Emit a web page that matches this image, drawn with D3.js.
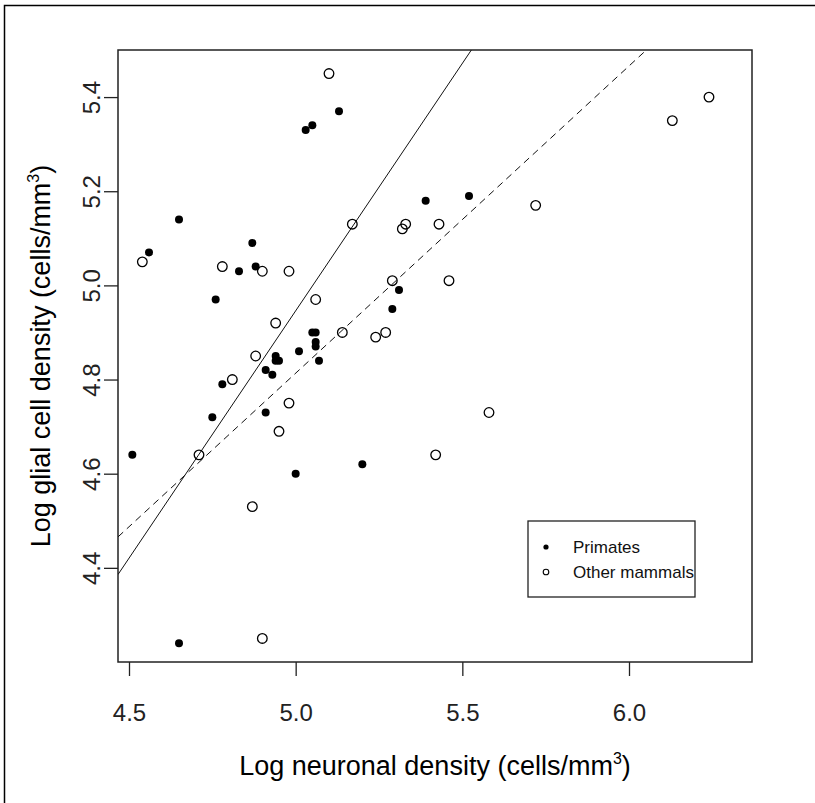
<!DOCTYPE html>
<html>
<head>
<meta charset="utf-8">
<script src="https://cdn.jsdelivr.net/npm/d3@7"></script>
<style>
  body { margin: 0; background: #fff; }
  svg { display: block; font-family: "Liberation Sans", Arial, sans-serif; }
</style>
</head>
<body>
<div id="chart"></div>
<script>
const width = 815
const height = 803
const margin = {left: 118, right: 63, top: 50, bottom: 141}

// axis limits and ticks
const xlim = [4.467, 6.369]
const ylim = [4.2, 5.5]
const x_ticks = [4.5, 5.0, 5.5, 6.0]
const y_ticks = [4.4, 4.6, 4.8, 5.0, 5.2, 5.4]

// primates (filled)
const primate_x = [5.03, 5.05, 5.13, 4.65, 4.56, 4.87, 4.83, 4.88, 4.76, 5.39, 5.52, 5.31, 5.29, 5.05, 5.06, 5.06, 5.06, 5.07, 5.01, 4.94, 4.94, 4.95, 4.91, 4.93, 4.78, 4.75, 4.91, 4.51, 5.00, 5.20, 4.65]
const primate_y = [5.33, 5.34, 5.37, 5.14, 5.07, 5.09, 5.03, 5.04, 4.97, 5.18, 5.19, 4.99, 4.95, 4.90, 4.90, 4.88, 4.87, 4.84, 4.86, 4.85, 4.84, 4.84, 4.82, 4.81, 4.79, 4.72, 4.73, 4.64, 4.60, 4.62, 4.24]

// other mammals (open)
const other_x = [5.10, 4.54, 4.78, 4.90, 4.98, 5.17, 5.33, 5.32, 5.43, 6.13, 6.24, 5.72, 4.94, 5.06, 5.29, 5.46, 4.88, 5.14, 5.27, 5.24, 4.81, 4.98, 4.95, 4.71, 5.58, 5.42, 4.87, 4.90]
const other_y = [5.45, 5.05, 5.04, 5.03, 5.03, 5.13, 5.13, 5.12, 5.13, 5.35, 5.40, 5.17, 4.92, 4.97, 5.01, 5.01, 4.85, 4.90, 4.90, 4.89, 4.80, 4.75, 4.69, 4.64, 4.73, 4.64, 4.53, 4.25]

// regression lines: [intercept, slope]
const fit_primates = [-0.309, 1.051]
const fit_others = [1.551, 0.6525]

const legend_labels = ["Primates", "Other mammals"]

var svg = d3.select("#chart").append("svg")
	.attr("width", width)
	.attr("height", height)

// outer frame (cropped figure)
svg.append("rect")
	.attr("x", 4.5).attr("y", 5.5)
	.attr("width", 1000).attr("height", 1000)
	.attr("fill", "none")
	.attr("stroke", "#000")
	.attr("stroke-width", 1.5)

var x = d3.scaleLinear().domain(xlim).range([margin.left, width - margin.right])
var y = d3.scaleLinear().domain(ylim).range([height - margin.bottom, margin.top])

svg.append("clipPath").attr("id", "plotclip")
	.append("rect")
	.attr("x", margin.left).attr("y", margin.top)
	.attr("width", width - margin.left - margin.right)
	.attr("height", height - margin.top - margin.bottom)

// axes
var xAxis = svg.append("g")
	.attr("transform", `translate(0,${height - margin.bottom})`)
	.call(d3.axisBottom(x).tickValues(x_ticks).tickFormat(d3.format(".1f")).tickSize(14).tickPadding(28))
xAxis.select(".domain").remove()
xAxis.selectAll("text").attr("font-size", "24px").attr("fill", "#222").attr("font-family", "Liberation Sans, Arial, sans-serif")
xAxis.selectAll("line").attr("stroke", "#222").attr("stroke-width", 1.3)

var yAxis = svg.append("g")
	.attr("transform", `translate(${margin.left},0)`)
	.call(d3.axisLeft(y).tickValues(y_ticks).tickFormat(d3.format(".1f")).tickSize(14).tickPadding(0))
yAxis.select(".domain").remove()
yAxis.selectAll("line").attr("stroke", "#222").attr("stroke-width", 1.3)
yAxis.selectAll("text")
	.attr("font-size", "24px").attr("fill", "#222")
	.attr("font-family", "Liberation Sans, Arial, sans-serif")
	.attr("x", null).attr("dy", null)
	.attr("text-anchor", "middle")
	.attr("transform", "translate(-18,0) rotate(-90)")

// box
svg.append("rect")
	.attr("x", margin.left).attr("y", margin.top)
	.attr("width", width - margin.left - margin.right)
	.attr("height", height - margin.top - margin.bottom)
	.attr("fill", "none")
	.attr("stroke", "#222")
	.attr("stroke-width", 1.5)

// fitted lines
var lines = svg.append("g").attr("clip-path", "url(#plotclip)")
let line_of = function(fit) {
	return [xlim[0], xlim[1]].map(v => [x(v), y(fit[0] + fit[1]*v)])
}
lines.append("path")
	.attr("d", d3.line()(line_of(fit_primates)))
	.attr("stroke", "#111").attr("stroke-width", 1).attr("fill", "none")
lines.append("path")
	.attr("d", d3.line()(line_of(fit_others)))
	.attr("stroke", "#111").attr("stroke-width", 1).attr("fill", "none")
	.attr("stroke-dasharray", "7 5")

// points
svg.append("g").selectAll("circle")
	.data(other_x.map((v, i) => [v, other_y[i]]))
	.enter().append("circle")
	.attr("cx", d => x(d[0]))
	.attr("cy", d => y(d[1]))
	.attr("r", 4.8)
	.attr("fill", "none")
	.attr("stroke", "#000")
	.attr("stroke-width", 1.3)

svg.append("g").selectAll("circle")
	.data(primate_x.map((v, i) => [v, primate_y[i]]))
	.enter().append("circle")
	.attr("cx", d => x(d[0]))
	.attr("cy", d => y(d[1]))
	.attr("r", 4)
	.attr("fill", "#000")

// legend
var legend = svg.append("g").attr("transform", "translate(528,521)")
legend.append("rect")
	.attr("width", 167).attr("height", 76)
	.attr("fill", "#fff").attr("stroke", "#222").attr("stroke-width", 1.3)
legend_labels.forEach(function(lab, i) {
	let ly = 26 + i*25
	if (i == 0) {
		legend.append("circle").attr("cx", 18).attr("cy", ly).attr("r", 2.6).attr("fill", "#000")
	} else {
		legend.append("circle").attr("cx", 18).attr("cy", ly).attr("r", 2.8)
			.attr("fill", "none").attr("stroke", "#000").attr("stroke-width", 1.1)
	}
	legend.append("text")
		.attr("x", 45).attr("y", ly)
		.attr("dy", "0.36em")
		.attr("font-size", "17px")
		.attr("fill", "#111")
		.text(lab)
})

// axis titles
var xt = svg.append("text")
	.attr("x", (margin.left + width - margin.right)/2)
	.attr("y", 775)
	.attr("text-anchor", "middle")
	.attr("font-size", "27px")
	.attr("fill", "#000")
xt.append("tspan").text("Log neuronal density (cells/mm")
xt.append("tspan").attr("font-size", "16px").attr("dy", "-11").text("3")
xt.append("tspan").attr("dy", "11").text(")")

var yt = svg.append("text")
	.attr("transform", `translate(50,${(margin.top + height - margin.bottom)/2}) rotate(-90)`)
	.attr("text-anchor", "middle")
	.attr("font-size", "27px")
	.attr("fill", "#000")
yt.append("tspan").text("Log glial cell density (cells/mm")
yt.append("tspan").attr("font-size", "16px").attr("dy", "-11").text("3")
yt.append("tspan").attr("dy", "11").text(")")
</script>
</body>
</html>
